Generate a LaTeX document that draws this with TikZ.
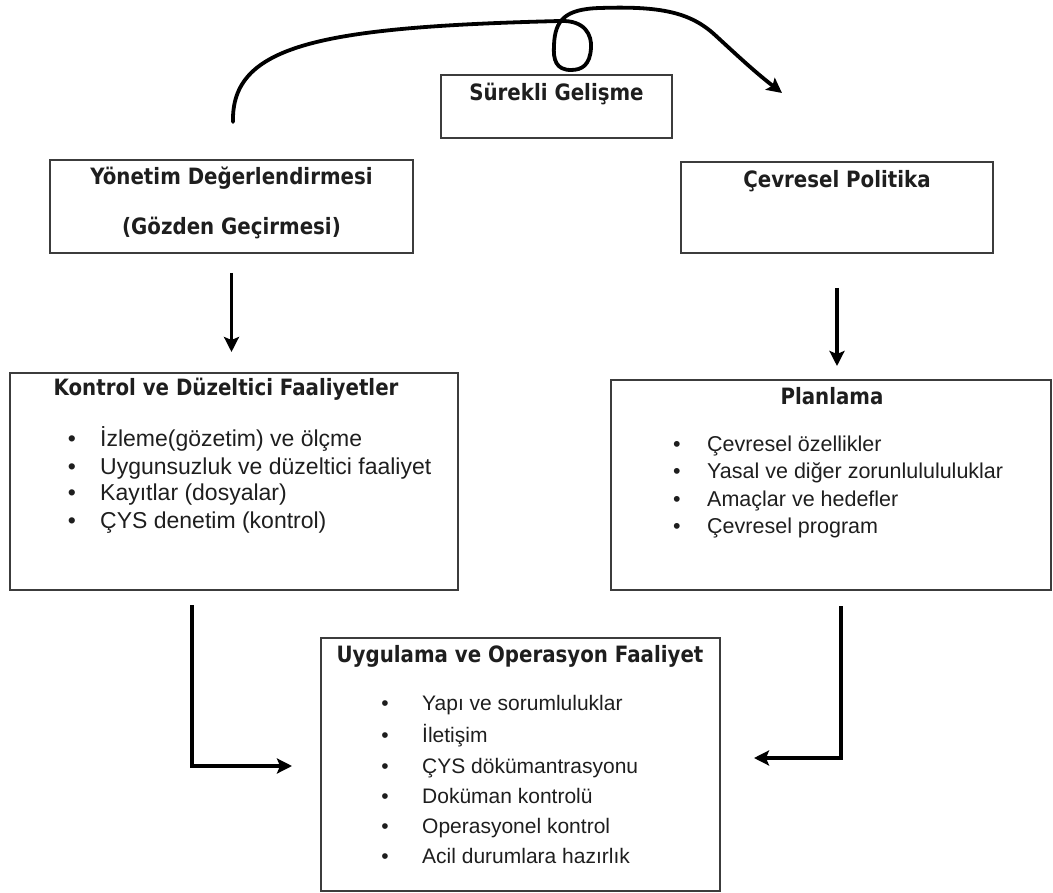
\documentclass[tikz,border=0pt]{standalone}
\usepackage{fontspec}
\setmainfont{Liberation Sans}
\newfontfamily\ttlfont[FakeStretch=0.88]{DejaVu Sans}
\usetikzlibrary{arrows.meta,calc}
\definecolor{boxline}{HTML}{3C3C3C}
\definecolor{txt}{HTML}{1E1E1E}
\begin{document}
\begin{tikzpicture}[x=1pt,y=-1pt,
  box/.style={draw=boxline, line width=2pt, rectangle, inner sep=0pt},
  ttl/.style={font=\ttlfont\bfseries\fontsize{22.5}{24}\selectfont, text=txt, inner sep=0pt, text height=0.75em, text depth=0.25em},
  itm/.style={text=txt, inner sep=0pt, text height=0.75em, text depth=0.25em},
  arr/.style={line width=3.8pt, -{Stealth[length=15pt,width=15pt,inset=3pt]}},
]
\useasboundingbox (0,0) rectangle (1053,893);
% boxes
\node[box, minimum width=231pt, minimum height=63pt] (sur) at (556.5,106.5) {};
\node[box, minimum width=363pt, minimum height=93pt] (yon) at (231.5,206.5) {};
\node[box, minimum width=312pt, minimum height=91pt] (cev) at (837,207.5) {};
\node[box, minimum width=448pt, minimum height=217pt] (kon) at (234,481.5) {};
\node[box, minimum width=440pt, minimum height=210pt] (pla) at (831,485) {};
\node[box, minimum width=399pt, minimum height=253pt] (uyg) at (520.5,764.5) {};
% titles
\node[ttl] (surT) at (556.5,98) {Sürekli Gelişme};
\node[ttl] (yonT1) at (231.5,182) {Yönetim Değerlendirmesi};
\node[ttl] (yonT2) at (231.5,232) {(Gözden Geçirmesi)};
\node[ttl] (cevT) at (837,185) {Çevresel Politika};
\node[ttl] (konT) at (226,393) {Kontrol ve Düzeltici Faaliyetler};
\node[ttl] (plaT) at (832,402) {Planlama};
\node[ttl] (uygT) at (520,660) {Uygulama ve Operasyon Faaliyet};
% bullet lists
\foreach \t/\y [count=\i] in {İzleme(gözetim) ve ölçme/444, Uygunsuzluk ve düzeltici faaliyet/472, Kayıtlar (dosyalar)/498, ÇYS denetim (kontrol)/526}{
  \node[itm, font=\fontsize{23}{23}\selectfont] (konB\i) at (72,\y) {•};
  \node[itm, font=\fontsize{23}{23}\selectfont, anchor=west] (konI\i) at (100,\y) {\t};
}
\foreach \t/\y [count=\i] in {Çevresel özellikler/449, Yasal ve diğer zorunlulululuklar/476, Amaçlar ve hedefler/504, Çevresel program/531}{
  \node[itm, font=\fontsize{21.5}{21.5}\selectfont] (plaB\i) at (677,\y) {•};
  \node[itm, font=\fontsize{21.5}{21.5}\selectfont, anchor=west] (plaI\i) at (707,\y) {\t};
}
\foreach \t/\y [count=\i] in {Yapı ve sorumluluklar/708, İletişim/740, ÇYS dökümantrasyonu/771, Doküman kontrolü/801, Operasyonel kontrol/831, Acil durumlara hazırlık/861}{
  \node[itm, font=\fontsize{21}{21}\selectfont] (uygB\i) at (385,\y) {•};
  \node[itm, font=\fontsize{21}{21}\selectfont, anchor=west] (uygI\i) at (422,\y) {\t};
}
% straight arrows
\draw[arr] ([yshift=-19pt]yon.south) -- ($(yon.south |- kon.north)+(0,-20)$);
\draw[arr] ([yshift=-34pt]cev.south) -- ($(cev.south |- pla.north)+(0,-13)$);
% elbow arrows
\coordinate (elbL) at (192,605);
\coordinate (elbR) at (841,606);
\draw[arr] (elbL) |- ($(uyg.west)+(-28,1.5)$);
\draw[arr] (elbR) |- ($(uyg.east)+(33,-6.5)$);
% continual improvement loop
\coordinate (cs) at (233,122);
\coordinate (ce) at (782,93);
\draw[arr, line cap=round] (cs) .. controls (231,45) and (320,27) .. (560,21)
  .. controls (585,20) and (592,35) .. (591,48)
  .. controls (590,65) and (582,70) .. (571,70)
  .. controls (556,70) and (553,60) .. (554,45)
  .. controls (555,20) and (565,9) .. (600,8)
  .. controls (660,6) and (690,12) .. (715,35)
  .. controls (740,58) and (755,72) .. (ce);
\end{tikzpicture}
\end{document}
